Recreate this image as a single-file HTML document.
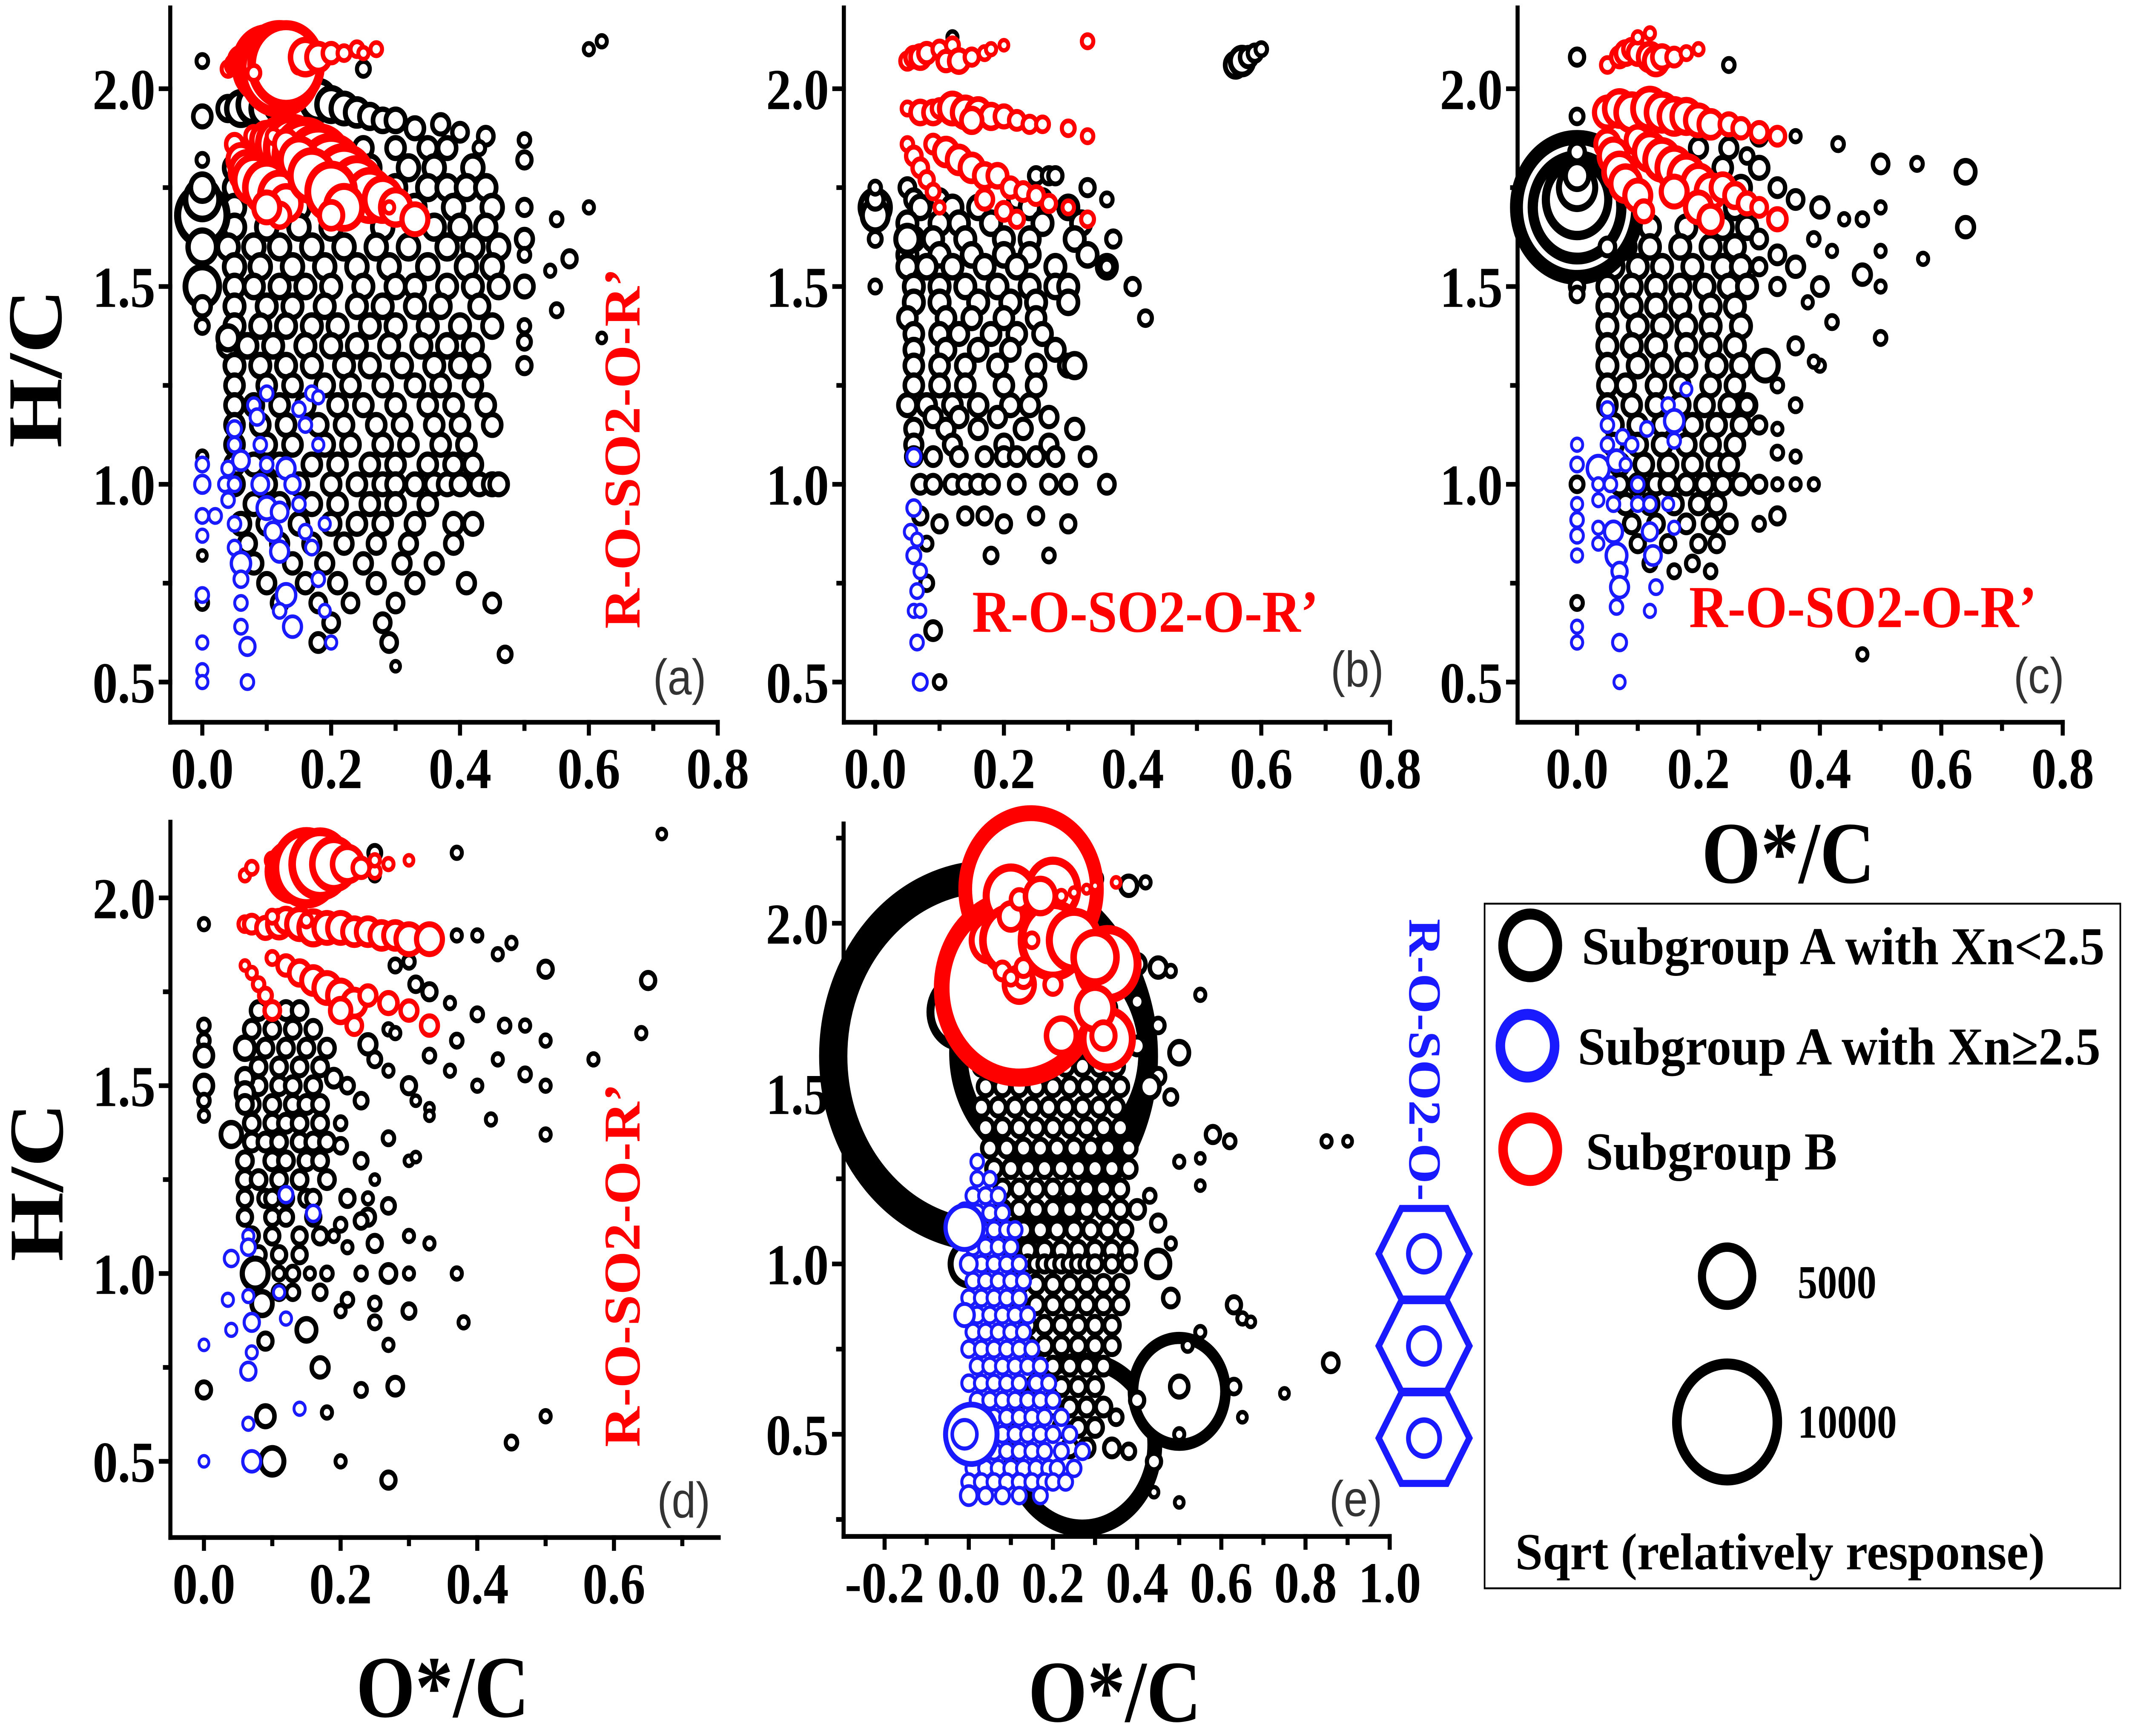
<!DOCTYPE html>
<html><head><meta charset="utf-8"><style>
html,body{margin:0;padding:0;background:#fff;width:100%;height:100%;overflow:hidden}
svg{display:block;position:absolute;left:0;top:0;width:100%;height:100%}
text{font-family:"Liberation Serif",serif;font-weight:bold}
</style></head><body>
<svg id="chart" xmlns="http://www.w3.org/2000/svg" width="100%" height="100%" viewBox="0 0 1568 1107.3" preserveAspectRatio="none">
<rect x="0" y="0" width="1568" height="1107.3" fill="#fff"/>
<g id="panels"></g>
<text transform="translate(45,235) rotate(-90)" text-anchor="middle" font-size="57">H/C</text>
<text transform="translate(46,754) rotate(-90)" text-anchor="middle" font-size="57">H/C</text>
<text x="1317" y="563" text-anchor="middle" font-size="56">O*/C</text>
<text x="326" y="1095" text-anchor="middle" font-size="56">O*/C</text>
<text x="821" y="1098" text-anchor="middle" font-size="56">O*/C</text>
<text transform="translate(471,286) rotate(-90)" text-anchor="middle" font-size="38" fill="#ff0000" textLength="230" lengthAdjust="spacingAndGlyphs">R-O-SO2-O-R’</text>
<text x="716" y="403" font-size="38" fill="#ff0000" textLength="255" lengthAdjust="spacingAndGlyphs">R-O-SO2-O-R’</text>
<text x="1244" y="400" font-size="38" fill="#ff0000" textLength="256" lengthAdjust="spacingAndGlyphs">R-O-SO2-O-R’</text>
<text transform="translate(471,807) rotate(-90)" text-anchor="middle" font-size="38" fill="#ff0000" textLength="232" lengthAdjust="spacingAndGlyphs">R-O-SO2-O-R’</text>
<text transform="translate(1038,586) rotate(90)" font-size="34" fill="#1a1aff" textLength="180" lengthAdjust="spacingAndGlyphs">R-O-SO2-O-</text>
<g fill="none" stroke="#1a1aff" stroke-width="4.5">
<polygon points="1015.4,799.7 1032.1,770.8 1065.5,770.8 1082.2,799.7 1065.5,828.6 1032.1,828.6"/>
<polygon points="1015.4,858.5 1032.1,829.6 1065.5,829.6 1082.2,858.5 1065.5,887.4 1032.1,887.4"/>
<polygon points="1015.4,917.3 1032.1,888.4 1065.5,888.4 1082.2,917.3 1065.5,946.2 1032.1,946.2"/>
<circle cx="1048.8" cy="799.7" r="11.5" stroke-width="3.5"/>
<circle cx="1048.8" cy="858.5" r="11.5" stroke-width="3.5"/>
<circle cx="1048.8" cy="917.3" r="11.5" stroke-width="3.5"/>
</g>
<g fill="#333" font-size="32">
<text x="481" y="443" style="font-family:'Liberation Sans',sans-serif;font-weight:normal">(a)</text>
<text x="980" y="438" style="font-family:'Liberation Sans',sans-serif;font-weight:normal">(b)</text>
<text x="1483" y="442" style="font-family:'Liberation Sans',sans-serif;font-weight:normal">(c)</text>
<text x="484" y="968" style="font-family:'Liberation Sans',sans-serif;font-weight:normal">(d)</text>
<text x="979" y="967" style="font-family:'Liberation Sans',sans-serif;font-weight:normal">(e)</text>
</g>
<g>
<rect x="1093.4" y="576.4" width="468.2" height="436.7" fill="#fff" stroke="#000" stroke-width="1.2"/>
<g>
<circle cx="1127" cy="603" r="20" fill="#fff" stroke="#000" stroke-width="7"/>
<text x="1165" y="615" font-size="34" textLength="385" lengthAdjust="spacingAndGlyphs">Subgroup A with Xn&lt;2.5</text></g>
<g>
<circle cx="1125" cy="667" r="20" fill="#fff" stroke="#1a1aff" stroke-width="7"/>
<text x="1162" y="679" font-size="34" textLength="385" lengthAdjust="spacingAndGlyphs">Subgroup A with Xn≥2.5</text></g>
<g>
<circle cx="1127" cy="733" r="20" fill="#fff" stroke="#ff0000" stroke-width="7"/>
<text x="1168" y="746" font-size="34" textLength="185" lengthAdjust="spacingAndGlyphs">Subgroup B</text></g>
<g>
<circle cx="1272" cy="814" r="18.5" fill="#fff" stroke="#000" stroke-width="6"/>
<text x="1324" y="828" font-size="30" textLength="58" lengthAdjust="spacingAndGlyphs">5000</text></g>
<g>
<circle cx="1272" cy="907" r="37" fill="#fff" stroke="#000" stroke-width="7"/>
<text x="1324" y="917" font-size="30" textLength="73" lengthAdjust="spacingAndGlyphs">10000</text></g>
<text x="1116" y="1001" font-size="33" textLength="390" lengthAdjust="spacingAndGlyphs">Sqrt (relatively response)</text>
</g>
</svg>
<script>
// ===== DATA (x = O*/C, y = H/C, s = sqrt response /100) =====
const aBlackRows = [
[1.85,16,.25,.3,.35,.38],[1.8,18,.05,.2,.26,.32,.36,.42],[1.75,18,.05,.1,.3,.35,.38,.41,.44],
[1.7,18,.05,.15,.24,.33,.39,.45],[1.65,18,.05,.1,.15,.2,.28,.36,.4,.44],
[1.6,18,.04,.08,.12,.17,.22,.27,.32,.38,.42,.46],[1.55,18,.05,.09,.14,.19,.24,.29,.35,.41,.45],
[1.5,17,.05,.08,.12,.16,.2,.25,.3,.33,.38,.42,.46],[1.45,17,.05,.1,.14,.19,.24,.28,.33,.37,.43],
[1.4,17,.05,.09,.13,.17,.21,.26,.3,.35,.4,.45],[1.35,17,.04,.07,.11,.16,.2,.24,.29,.34,.38,.42],
[1.3,17,.05,.09,.13,.17,.22,.26,.31,.36,.4,.43],[1.25,16,.05,.1,.14,.19,.23,.28,.33,.37,.42],
[1.2,16,.05,.08,.12,.16,.21,.25,.3,.35,.39,.44],[1.15,16,.05,.09,.13,.18,.22,.27,.31,.36,.4,.45],
[1.1,16,.05,.1,.14,.19,.23,.28,.32,.37,.41],[1.05,16,.05,.08,.12,.17,.21,.26,.3,.35,.39,.42],
[1.0,16,.05,.1,.15,.2,.24,.28,.3,.33,.36,.38,.4,.43,.45,.46],[0.95,16,.08,.12,.17,.21,.26,.3,.35],
[0.9,16,.06,.1,.15,.2,.24,.28,.33,.39,.42],[0.85,15,.07,.12,.17,.22,.27,.32,.39],
[0.8,15,.08,.14,.19,.25,.31,.36],[0.75,15,.1,.16,.21,.27,.33,.41],[0.7,14,.12,.18,.23,.3,.45],
[0.65,14,.2,.28],[0.6,14,.18,.29]];
const aBlackPts = [0,1.68,40,0,1.72,28,0,1.75,20,0,1.6,24,0,1.5,28,0,1.45,15,0,1.4,12,0,2.07,11,0,1.93,16,0,1.82,11,
0,1.07,10,0,1.05,10,0,0.92,10,0,0.82,9,0,0.7,11,
.04,1.95,18,.06,1.95,24,.08,1.96,26,.1,1.95,26,.12,1.96,24,.15,1.97,28,.18,1.97,28,.2,1.96,24,.22,1.95,22,.24,1.94,20,
.26,1.93,18,.28,1.92,17,.3,1.92,17,.33,1.9,16,.37,1.91,15,.4,1.89,14,.44,1.88,14,.5,1.87,11,.43,1.85,11,.25,2.05,12,
.6,2.1,10,.62,2.12,10,.5,1.82,13,.5,1.7,13,.5,1.62,15,.5,1.58,11,.5,1.5,16,.5,1.4,11,.5,1.36,12,.5,1.3,13,
.55,1.67,11,.57,1.57,13,.54,1.54,10,.6,1.7,10,.55,1.44,11,.62,1.37,9,.47,0.57,12,.3,0.54,9,.04,1.37,18];
const aBluePts = [0,1.05,11,0,1.0,13,0,0.92,11,0,0.87,10,0,0.72,11,0,0.6,10,0,0.53,10,0,0.5,10,.02,0.92,11,.035,1.0,11,
.04,0.96,11,.04,1.04,11,.05,1.14,12,.05,1.1,11,.05,1.0,11,.05,0.9,11,.05,0.84,11,.06,1.06,14,.06,0.8,16,.06,0.76,12,
.06,0.7,11,.06,0.64,11,.07,0.59,13,.07,0.5,11,.08,1.2,11,.085,1.17,12,.09,1.1,11,.1,1.05,11,.09,1.0,14,.1,0.94,16,
.11,0.88,14,.12,0.83,15,.1,1.23,11,.12,0.93,14,.13,1.04,15,.14,1.0,13,.13,0.72,16,.14,0.64,15,.12,0.68,11,.15,0.95,11,
.16,0.88,11,.17,0.84,11,.15,1.19,11,.16,1.15,11,.17,1.23,11,.18,1.22,10,.18,1.1,10,.18,0.76,11,.19,0.9,10,.19,0.68,10,.2,0.6,10];
const aRedPts = [.04,2.05,12,.05,2.06,15,.06,2.07,20,.08,2.06,30,.09,2.05,40,.1,2.06,50,.12,2.05,60,.13,2.06,55,.08,2.04,12,
.15,2.06,13,.16,2.08,25,.18,2.08,20,.2,2.09,15,.22,2.09,12,.24,2.1,12,.25,2.09,10,.27,2.1,11,
.08,1.88,15,.1,1.87,25,.12,1.86,35,.14,1.85,42,.16,1.83,48,.18,1.81,50,.2,1.79,48,.22,1.77,45,.24,1.75,40,.26,1.73,35,
.28,1.72,30,.3,1.7,25,.33,1.67,22,.29,1.7,10,
.05,1.86,15,.06,1.82,22,.07,1.79,28,.08,1.77,32,.1,1.75,35,.12,1.73,32,.13,1.71,25,.12,1.68,18,.1,1.7,22,
.11,1.88,12,.13,1.86,20,.15,1.82,30,.17,1.78,35,.2,1.74,38,.22,1.7,30,.2,1.68,20];

const bBlackRows = [
[1.78,13,.25,.27,.28],[1.75,14,.05],[1.72,15,.06,.1,.22,.26],[1.7,17,.07,.12,.16,.24,.3],
[1.66,17,.05,.1,.13,.18,.26,.32],[1.62,17,.06,.09,.14,.2,.24,.31],[1.58,17,.05,.1,.15,.2,.24,.33],
[1.55,17,.05,.08,.12,.17,.22,.28,.36],[1.5,17,.06,.1,.14,.19,.24,.28,.3],[1.46,17,.06,.1,.16,.21,.25,.3],
[1.42,16,.05,.11,.15,.2,.25],[1.38,16,.06,.1,.13,.18,.22,.26],[1.34,16,.06,.11,.16,.21,.28],
[1.3,16,.06,.1,.14,.19,.25,.3],[1.25,16,.06,.1,.14,.2,.25],[1.2,16,.05,.08,.12,.16,.21,.24],
[1.17,15,.09,.13,.19,.27],[1.14,15,.06,.11,.16,.23,.31],[1.1,15,.06,.12,.2,.27],
[1.07,14,.06,.09,.13,.17,.2,.22,.25,.28,.33],[1.0,14,.07,.09,.12,.14,.16,.18,.22,.27,.3,.36],
[0.92,13,.07,.14,.17,.25],[0.9,13,.1,.2,.3]];
const bBlackPts = [0,1.7,25,0,1.68,22,0,1.72,15,0,1.75,11,0,1.62,12,0,1.5,11,.12,2.13,10,.56,2.06,18,.57,2.07,20,.58,2.08,15,
.59,2.09,13,.6,2.1,11,.33,1.75,13,.36,1.72,11,.37,1.62,13,.4,1.5,13,.42,1.42,12,.36,1.55,12,.31,1.3,18,.05,1.62,20,
.18,0.82,12,.27,0.82,11,.08,0.85,11,.08,0.75,12,.09,0.63,14,.1,0.5,11];
const bBluePts = [.06,1.07,12,.06,0.94,12,.055,0.88,11,.065,0.86,10,.06,0.82,12,.07,0.78,11,.065,0.73,11,.06,0.68,10,
.07,0.68,10,.065,0.6,11,.07,0.5,12];
const bRedPts = [.05,2.07,13,.06,2.08,15,.07,2.08,17,.08,2.09,15,.1,2.1,13,.12,2.11,12,.11,2.07,15,.13,2.07,17,.15,2.08,13,
.17,2.09,11,.18,2.1,10,.2,2.11,9,.33,2.12,11,
.05,1.95,11,.07,1.94,17,.09,1.94,17,.1,1.95,14,.12,1.95,22,.14,1.94,22,.16,1.94,20,.18,1.93,18,.2,1.93,16,.22,1.92,14,
.24,1.91,13,.26,1.91,12,.3,1.9,12,.33,1.88,11,.15,1.92,18,
.05,1.86,11,.06,1.83,14,.07,1.8,14,.08,1.77,13,.09,1.74,12,.1,1.7,10,
.09,1.86,14,.11,1.84,20,.13,1.82,20,.15,1.8,20,.17,1.78,18,.19,1.78,17,.21,1.75,15,.23,1.74,14,.25,1.73,14,.27,1.71,13,
.3,1.7,11,.33,1.67,12,.2,1.69,14,.22,1.67,13,.17,1.72,15];

const cBlackRows = [
[1.85,15,.2,.25],[1.8,16,.24,.3],[1.75,17,.22,.27],[1.7,17,.2,.26],[1.65,17,.07,.12,.18,.24,.28],
[1.6,17,.08,.12,.17,.22,.26],[1.55,17,.06,.1,.14,.19,.24,.27],[1.5,17,.05,.09,.13,.17,.21,.25,.28],
[1.45,17,.05,.09,.13,.17,.22,.26],[1.4,17,.05,.1,.14,.18,.22,.27],[1.35,17,.05,.09,.13,.18,.22,.26],
[1.3,17,.05,.1,.14,.18,.23,.27],[1.25,16,.05,.08,.13,.17,.22,.26],[1.2,16,.05,.09,.13,.17,.21,.25,.28],
[1.15,16,.06,.1,.14,.19,.23,.27],[1.1,16,.06,.1,.14,.18,.22,.26],[1.05,16,.07,.11,.15,.19,.23,.25],
[1.0,15,.07,.1,.13,.15,.18,.21,.24,.27],[0.95,15,.08,.12,.16,.2,.23],[0.9,14,.09,.13,.18,.22,.25],
[0.85,13,.1,.15,.2,.23],[0.8,12,.12,.19],[0.78,11,.16,.22]];
const cBlackPts = [0,1.7,95,0,1.7,70,0,1.72,50,0,1.75,30,0,1.78,20,0,1.84,14,0,1.93,12,0,2.08,13,0,1.5,13,0,1.48,12,
0,1.0,12,0,0.7,11,0,0.6,10,.05,1.6,14,
.25,2.06,11,.36,1.88,10,.43,1.86,11,.5,1.81,14,.56,1.81,11,.64,1.79,17,.64,1.65,15,.5,1.7,10,.44,1.67,10,.47,1.67,11,
.5,1.59,10,.57,1.57,10,.47,1.53,15,.5,1.5,10,.5,1.37,11,.4,1.7,15,.4,1.5,14,.42,1.41,11,.42,1.59,10,.39,1.62,11,
.38,1.46,10,.4,1.3,10,.39,1.31,10,.36,1.35,13,.33,1.25,11,.36,1.2,11,.31,1.3,22,.47,0.57,10,.36,1.07,10,.39,1.0,10,
.36,1.0,10,.33,1.0,10,.3,1.0,13,.33,0.92,13,.3,0.9,11,.33,1.14,10,.33,1.08,11,.3,1.15,13,.28,1.2,14,.33,1.5,13,
.33,1.58,14,.33,1.75,14,.36,1.72,14,.36,1.55,15,.3,1.55,13,.3,1.62,14,.3,1.88,14,.28,1.83,12];
const cBluePts = [0,1.1,10,0,1.05,11,0,0.95,10,0,0.91,11,0,0.87,11,0,0.82,10,0,0.64,10,0,0.6,10,.035,1.04,18,.035,1.0,10,
.035,0.96,10,.035,0.89,10,.035,0.85,10,.05,1.19,11,.05,1.15,11,.05,1.1,11,.055,1.0,11,.06,0.95,11,.06,0.88,15,
.065,0.82,17,.07,0.78,13,.07,0.74,15,.065,0.69,11,.07,0.6,12,.07,0.5,10,.065,1.06,15,.075,1.12,11,.08,1.05,10,
.09,1.1,11,.1,1.0,11,.1,0.95,11,.12,0.95,11,.12,0.88,13,.125,0.82,14,.13,0.74,11,.12,0.68,10,.115,1.14,11,.15,1.2,11,
.16,1.16,16,.16,1.11,11,.18,1.24,10,.15,0.95,10,.16,0.89,10];
const cRedPts = [.05,2.06,12,.07,2.08,15,.08,2.09,17,.09,2.1,15,.1,2.09,17,.12,2.08,20,.13,2.07,20,.14,2.08,17,.16,2.08,14,
.18,2.09,11,.2,2.1,10,.1,2.13,10,.12,2.14,10,
.05,1.94,22,.07,1.95,25,.09,1.94,26,.12,1.95,28,.14,1.94,26,.16,1.93,25,.18,1.93,24,.2,1.92,22,.22,1.91,20,.25,1.91,16,
.27,1.9,15,.3,1.89,15,.33,1.88,14,
.05,1.86,20,.06,1.83,24,.07,1.79,26,.08,1.76,25,.1,1.73,22,.11,1.69,16,
.1,1.87,20,.12,1.84,26,.14,1.82,28,.16,1.8,28,.18,1.78,28,.2,1.76,26,.22,1.74,24,.24,1.75,20,.26,1.73,18,.28,1.71,16,
.3,1.7,14,.33,1.67,16,.2,1.7,22,.22,1.67,20,.16,1.74,22];

const dBlackRows = [
[1.7,14,.08,.12,.14],[1.65,14,.07,.1,.13,.16],[1.6,14,.09,.12,.15,.18],[1.55,14,.08,.11,.14,.17],
[1.5,14,.08,.11,.13,.16],[1.45,14,.07,.1,.13,.15,.17],[1.4,14,.07,.1,.12,.14,.17],[1.35,14,.07,.09,.11,.14,.16,.18],
[1.3,14,.06,.1,.12,.15,.17],[1.25,14,.06,.08,.11,.14,.18],[1.2,13,.06,.09,.1,.12,.15,.16],[1.15,13,.06,.1,.12,.16],
[1.1,13,.07,.1,.14,.17],[1.05,13,.08,.11,.14],[0.95,12,.11,.13,.17]];
const dBlackPts = [0,1.93,10,0,1.66,11,0,1.62,11,0,1.58,16,0,1.5,16,0,1.46,11,0,1.42,10,0,0.69,13,.04,1.37,18,.06,1.6,17,
.06,1.52,15,.06,1.48,16,.06,1.45,14,.075,1.0,22,.085,0.92,18,.09,0.82,13,.09,0.62,16,.1,0.5,20,.15,0.85,17,.17,0.75,15,
.27,0.45,13,.2,0.5,10,.23,0.69,11,.28,0.7,14,.18,0.63,10,.27,0.81,10,.3,0.9,12,.25,0.87,11,.25,0.92,11,.21,0.93,11,
.2,0.9,10,.3,1.0,10,.27,1.0,14,.23,1.0,11,.18,1.0,11,.155,1.0,10,.13,1.0,12,.11,1.0,11,.3,1.1,10,.33,1.08,10,.37,1.0,10,
.38,0.87,10,.25,1.08,13,.21,1.07,10,.24,1.15,13,.27,1.18,12,.45,0.55,11,.5,0.62,10,.37,2.12,10,.67,2.17,9,.37,1.9,10,
.4,1.9,10,.43,1.85,10,.45,1.88,10,.5,1.81,13,.65,1.78,13,.64,1.64,10,.57,1.57,10,.4,1.69,11,.44,1.66,11,.47,1.66,10,
.5,1.62,10,.47,1.53,11,.5,1.5,10,.4,1.5,10,.43,1.57,10,.42,1.41,10,.5,1.37,10,.37,1.62,11,.36,1.72,10,.36,1.54,10,
.33,1.58,11,.33,1.44,9,.33,1.42,9,.3,1.5,13,.31,1.46,9,.3,1.3,9,.31,1.31,9,.27,1.36,11,.27,1.54,10,.27,1.65,10,
.28,1.64,10,.33,1.75,13,.31,1.77,12,.3,1.83,11,.28,1.82,11,.25,2.12,12,.25,2.06,10,.12,2.12,12,.24,1.61,15,.25,1.57,12,
.23,1.46,12,.23,1.3,12,.25,1.25,9,.24,1.2,10,.21,1.2,13,.23,1.14,12,.2,1.13,11,.19,1.1,10,.2,1.34,12,.2,1.4,11,
.19,1.52,14,.21,1.5,12];
const dBluePts = [0,0.81,9,0,0.5,9,.04,1.04,12,.035,0.93,10,.04,0.85,10,.065,1.1,10,.065,1.07,12,.065,0.94,10,.07,0.87,13,
.07,0.79,10,.065,0.74,13,.065,0.6,10,.07,0.5,15,.11,0.95,10,.12,0.88,10,.12,1.21,12,.16,1.16,12,.14,0.64,10];
const dRedPts = [.06,2.06,10,.07,2.08,11,.1,2.1,12,.11,2.08,15,.13,2.07,40,.14,2.1,30,.15,2.08,50,.17,2.09,45,.19,2.09,35,
.21,2.09,25,.23,2.08,15,.25,2.07,11,.25,2.1,10,.27,2.09,10,.3,2.1,9,
.06,1.93,12,.07,1.93,14,.09,1.92,16,.11,1.93,20,.12,1.94,18,.14,1.93,22,.16,1.92,24,.18,1.92,22,.2,1.92,22,.22,1.91,20,
.24,1.91,20,.26,1.9,20,.28,1.9,20,.3,1.89,22,.33,1.89,22,.1,1.95,11,.15,1.94,11,
.06,1.82,9,.07,1.8,10,.08,1.77,11,.09,1.74,12,.1,1.7,14,
.1,1.84,11,.12,1.82,15,.14,1.8,18,.16,1.78,20,.18,1.76,22,.2,1.74,22,.22,1.72,20,.24,1.74,15,.27,1.72,16,.3,1.7,15,
.33,1.66,15,.2,1.7,18,.22,1.66,14];

const eBlackBig = [.047,1.61,240,.2,1.62,147,.27,0.47,113,.5,0.626,73,-.02,1.74,48,0,1.0,30];
const eBlackRows = [
[1.75,15,.05,.09,.13,.3,.33],[1.7,15,.03,.07,.11,.27,.31,.35],[1.64,14,.04,.08,.12,.16,.2,.24,.28,.32,.4],
[1.58,14,.03,.07,.11,.15,.19,.23,.27,.31,.35],[1.52,14,.04,.08,.12,.16,.2,.24,.28,.32,.36],
[1.46,14,.03,.07,.11,.15,.19,.23,.27,.31,.35],[1.4,14,.04,.08,.12,.16,.2,.24,.28,.32,.36],
[1.34,14,.05,.09,.13,.17,.21,.25,.29,.33,.38],[1.28,14,.06,.1,.14,.18,.22,.26,.3,.34,.38],
[1.22,14,.08,.12,.16,.2,.24,.28,.32,.36],[1.16,14,.08,.12,.16,.2,.24,.28,.32,.36,.4],
[1.1,14,.09,.13,.17,.21,.25,.29,.33,.37],[1.04,14,.1,.14,.18,.22,.26,.3,.34,.38],
[1.0,13,.1,.12,.14,.16,.18,.2,.22,.24,.26,.28,.3,.34,.38],[0.94,14,.12,.16,.2,.24,.28,.32,.36],
[0.88,14,.12,.16,.2,.24,.28,.32,.36],[0.82,14,.14,.18,.22,.26,.3,.34],[0.76,14,.14,.18,.22,.26,.3,.34],
[0.7,14,.16,.2,.24,.28,.32],[0.64,14,.18,.22,.26,.3],[0.58,14,.2,.24,.28,.32],[0.52,14,.22,.26,.3],[0.46,14,.24,.28,.34]];
const eBlackPts = [.42,2.12,10,.38,2.11,15,.3,2.13,13,.4,1.88,15,.45,1.87,15,.48,1.86,10,.55,1.79,10,.4,1.77,12,.45,1.7,12,
.5,1.62,17,.45,1.55,13,.43,1.52,17,.48,1.49,12,.62,1.36,11,.58,1.38,13,.85,1.36,10,.9,1.36,9,.5,1.3,10,.55,1.31,9,
.55,1.23,9,.43,1.2,11,.45,1.12,13,.48,1.06,10,.45,1.0,20,.48,0.9,14,.63,0.88,13,.65,0.84,10,.67,0.83,9,.55,0.8,10,
.52,0.76,10,.5,0.64,16,.63,0.64,12,.65,0.55,9,.75,0.62,9,.86,0.71,14,.5,0.5,10,.44,0.42,13,.44,0.33,9,.5,0.3,9,
.38,0.45,12,.35,0.55,12,.4,0.6,13];
const eBlueRows = [
[1.3,11,.02],[1.25,11,.02,.05],[1.2,12,.01,.04,.07],[1.15,12,.02,.05,.08],[1.1,12,.03,.06,.09,.11],
[1.05,12,.01,.04,.07,.1],[1.0,12,.03,.06,.09,.12],[0.95,12,.01,.04,.07,.1,.13],[0.9,12,0,.03,.06,.09,.12],
[0.85,12,.02,.05,.08,.11,.14],[0.8,12,.01,.04,.07,.1,.13],[0.75,12,0,.03,.06,.09,.12,.15],
[0.7,12,.02,.05,.08,.11,.14,.17],[0.65,12,0,.03,.06,.09,.12,.16,.19],[0.6,12,.02,.05,.08,.11,.14,.17,.2],
[0.55,12,0,.03,.06,.09,.12,.15,.18,.22],[0.5,12,.02,.05,.08,.11,.14,.17,.2,.24],
[0.45,12,0,.03,.06,.09,.12,.15,.18,.22,.27],[0.4,12,.01,.04,.07,.1,.13,.16,.19,.21,.25],
[0.36,12,0,.03,.06,.09,.12,.15,.18,.2,.23],[0.32,12,0,.04,.08,.12,.17]];
const eBluePts = [-.01,1.15,14,0,1.1,16,-.01,1.107,30,0,1.0,14,-.01,0.85,16,.006,0.5,40,-.01,0.5,20,0,0.32,14];
const eRedPts = [.148,2.1,103,.12,1.81,121,.33,1.88,48,.33,1.66,40,.2,2.1,40,.1,2.08,40,.05,1.95,30,.1,1.95,45,.2,1.95,50,
.25,1.95,40,.3,1.9,35,.3,1.75,30,.32,1.67,20,.22,1.67,25,.12,1.82,25,.13,1.84,15,.1,2.02,20,.12,2.07,15,.17,2.08,25,
.22,2.08,10,.25,2.09,9,.28,2.1,8,.3,2.11,8,.35,2.12,9,.2,1.82,15,.08,1.86,14,.1,1.84,12,.15,1.95,12,.13,1.87,14];

const xTicks08 = [0,0.2,0.4,0.6,0.8];
const xTicks06 = [0,0.2,0.4,0.6];
const xTicksE = [-0.2,0,0.2,0.4,0.6,0.8,1.0];
const yTicks = [0.5,1.0,1.5,2.0];

const panels = [
 {id:'a',xa:149,xb:474.5,ya:56.6,yb:252.3,L:125.4,R:528.6,T:5,B:460.7,xt:xTicks08,xm:[0.1,0.3,0.5,0.7],ym:[0.75,1.25,1.75],
  black:[aBlackPts,aBlackRows],blue:[aBluePts,[]],red:[aRedPts,[]],big:[]},
 {id:'b',xa:644.6,xb:473.9,ya:56.6,yb:252.3,L:621.5,R:1023.7,T:5,B:460.7,xt:xTicks08,xm:[0.1,0.3,0.5,0.7],ym:[0.75,1.25,1.75],
  black:[bBlackPts,bBlackRows],blue:[bBluePts,[]],red:[bRedPts,[]],big:[]},
 {id:'c',xa:1161.5,xb:447.1,ya:56.6,yb:252.3,L:1117.7,R:1519.2,T:5,B:460.7,xt:xTicks08,xm:[0.1,0.3,0.5,0.7],ym:[0.75,1.25,1.75],
  black:[cBlackPts,cBlackRows],blue:[cBluePts,[]],red:[cRedPts,[]],big:[]},
 {id:'d',xa:150.2,xb:503.3,ya:572.7,yb:239.6,L:125.5,R:529.3,T:524.4,B:980.7,xt:xTicks06,xm:[0.1,0.3,0.5,0.7],ym:[0.75,1.25,1.75],
  black:[dBlackPts,dBlackRows],blue:[dBluePts,[]],red:[dRedPts,[]],big:[]},
 {id:'e',xa:713.5,xb:310,ya:588.9,yb:217.3,L:621.3,R:1023.5,T:525.5,B:980,xt:xTicksE,xm:[-0.1,0.1,0.3,0.5,0.7,0.9],ym:[0.25,0.75,1.25,1.75,2.25],
  black:[eBlackPts,eBlackRows],blue:[eBluePts,eBlueRows],red:[eRedPts,[]],big:eBlackBig}
];
const NS='http://www.w3.org/2000/svg';
const root=document.getElementById('panels');
function mk(tag,attrs,parent){const e=document.createElementNS(NS,tag);for(const k in attrs)e.setAttribute(k,attrs[k]);parent.appendChild(e);return e;}
function expandRows(rows){const out=[];rows.forEach(r=>{for(let i=2;i<r.length;i++)out.push([r[i],r[0],r[1]]);});return out;}
function triples(flat){const out=[];for(let i=0;i+2<flat.length;i+=3)out.push([flat[i],flat[i+1],flat[i+2]]);return out;}
const COL={black:'#000',blue:'#1a1aff',red:'#ff0000'};

panels.forEach(p=>{
  const X=v=>p.xa+p.xb*v, Y=v=>p.ya+(2-v)*p.yb;
  const g=mk('g',{},root);
  
  
  const series=[['black',triples(p.big).concat(expandRows(p.black[1])).concat(triples(p.black[0]))],
                ['blue',expandRows(p.blue[1]).concat(triples(p.blue[0]))],
                ['red',triples(p.red[0])]];
  series.forEach(([name,pts])=>{
    const sg=mk('g',{},g);
    
    
    pts.forEach(pt=>{
      const r=pt[2]*0.52;
      const sw = name==='blue' ? 1.6+r*0.1 : 2.1+r*0.15;
      const c=mk('circle',{cx:X(pt[0]).toFixed(2),cy:Y(pt[1]).toFixed(2),r:Math.max(1,r-sw/2).toFixed(2),fill:'#fff',stroke:COL[name],'stroke-width':sw.toFixed(2)},sg);
      
      
    });
  });
  const ax=mk('g',{stroke:'#000','stroke-width':3,fill:'none','stroke-linecap':'square'},g);
  
  
  mk('line',{x1:p.L,y1:p.B,x2:p.R,y2:p.B},ax);
  mk('line',{x1:p.L,y1:p.B,x2:p.L,y2:p.T},ax);
  p.xt.forEach(v=>mk('line',{x1:X(v),y1:p.B,x2:X(v),y2:p.B+7},ax));
  p.xm.forEach(v=>{if(X(v)<=p.R+1)mk('line',{x1:X(v),y1:p.B,x2:X(v),y2:p.B+4},ax);});
  yTicks.forEach(v=>mk('line',{x1:p.L,y1:Y(v),x2:p.L-7,y2:Y(v)},ax));
  p.ym.forEach(v=>{if(Y(v)>=p.T&&Y(v)<=p.B)mk('line',{x1:p.L,y1:Y(v),x2:p.L-4,y2:Y(v)},ax);});
  p.xt.forEach(v=>{
    const t=mk('text',{x:X(v),y:p.B+42,'text-anchor':'middle','font-size':37},g);
    t.textContent=v.toFixed(1);
    
    
  });
  yTicks.forEach(v=>{
    const t=mk('text',{x:p.L-11,y:Y(v)+13,'text-anchor':'end','font-size':37},g);
    t.textContent=v.toFixed(1);
    
    
  });
});
</script>
</body></html>
